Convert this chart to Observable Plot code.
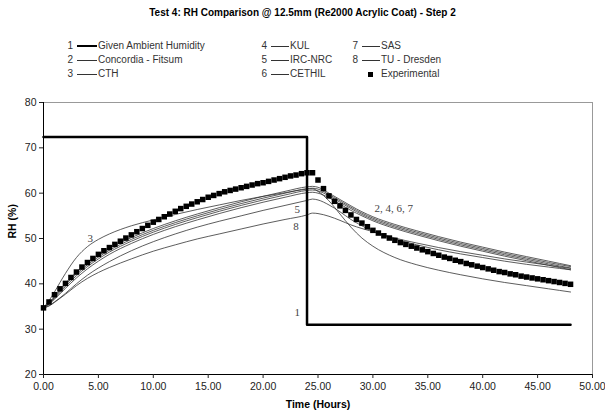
<!DOCTYPE html>
<html><head><meta charset="utf-8">
<script src="https://cdn.jsdelivr.net/npm/d3@7"></script>
<script src="https://cdn.jsdelivr.net/npm/@observablehq/plot@0.6"></script>
<style>
body{margin:0;background:#fff;font-family:Arial,"Liberation Sans",sans-serif;}
#wrap{position:relative;width:605px;height:418px;overflow:hidden;}
#title{position:absolute;top:0;left:0;width:605px;height:26px;line-height:26px;text-align:center;font-weight:bold;font-size:10px;color:#000;}
#legend{position:absolute;top:26px;left:0;width:605px;height:64px;}
.num{position:absolute;height:14px;line-height:14px;font-size:10px;color:#333;text-align:right;width:20px;}
.lab{position:absolute;height:14px;line-height:14px;font-size:10px;color:#333;white-space:nowrap;}
.ln{position:absolute;background:#333;}
.sq{position:absolute;width:5px;height:5px;background:#000;}
#chart{position:absolute;top:90px;left:0;}
</style></head>
<body>
<div id="wrap">
  <div id="title">Test 4: RH Comparison @ 12.5mm (Re2000 Acrylic Coat) - Step 2</div>
  <div id="legend"></div>
  <div id="chart"></div>
</div>
<script>
// ---- data ----
const xTicks = [0, 5, 10, 15, 20, 25, 30, 35, 40, 45, 50];
const yTicks = [20, 30, 40, 50, 60, 70, 80];

// Given ambient humidity (step)
const ambientTimes = [0, 24, 48];
const ambientRH = [72.4, 31.0, 31.0];

// model time grid (hours)
const modelTimes = [0, 0.5, 1, 1.5, 2, 3, 4, 5, 6, 8, 10, 12, 14, 16, 18, 20, 22, 24, 24.5,
  25, 26, 27, 28, 29, 30, 32, 34, 36, 38, 40, 42, 44, 46, 48];

const concordia = [34.7, 35.5, 36.6, 37.8, 39.0, 41.3, 43.3, 45.0, 46.5, 48.9, 50.9, 52.6, 54.1, 55.5, 56.8, 58.0, 59.1, 60.1, 60.2,
  60.0, 59.0, 57.6, 56.2, 55.0, 53.9, 52.2, 50.8, 49.5, 48.3, 47.2, 46.1, 45.1, 44.1, 43.1];
const cth = [34.7, 36.3, 38.2, 40.3, 42.3, 45.8, 48.2, 49.8, 51.0, 52.8, 54.1, 55.3, 56.4, 57.4, 58.4, 59.3, 60.1, 60.9, 61.0,
  60.4, 58.3, 55.4, 52.5, 50.1, 48.3, 45.8, 44.2, 43.0, 42.0, 41.1, 40.3, 39.6, 38.9, 38.2];
const kul = [34.7, 35.6, 36.8, 38.1, 39.4, 41.8, 43.8, 45.5, 47.0, 49.4, 51.4, 53.1, 54.6, 56.0, 57.3, 58.5, 59.6, 60.6, 60.7,
  60.5, 59.4, 58.0, 56.6, 55.3, 54.2, 52.5, 51.1, 49.8, 48.6, 47.5, 46.4, 45.4, 44.4, 43.5];
const ircNrc = [34.7, 35.2, 36.0, 36.9, 37.9, 40.0, 41.9, 43.5, 44.9, 47.3, 49.3, 51.0, 52.5, 53.8, 55.0, 56.2, 57.3, 58.4, 58.7,
  58.5, 57.4, 55.9, 54.2, 52.8, 51.6, 49.9, 48.6, 47.5, 46.6, 45.8, 45.0, 44.3, 43.7, 43.1];
const cethil = [34.7, 35.7, 37.0, 38.4, 39.8, 42.2, 44.2, 45.9, 47.4, 49.8, 51.8, 53.5, 55.0, 56.4, 57.7, 58.9, 60.0, 61.0, 61.1,
  60.9, 59.7, 58.3, 56.9, 55.6, 54.5, 52.8, 51.4, 50.1, 48.9, 47.8, 46.7, 45.7, 44.7, 43.8];
const sas = [34.7, 35.8, 37.2, 38.7, 40.1, 42.6, 44.6, 46.3, 47.8, 50.2, 52.2, 53.9, 55.4, 56.8, 58.1, 59.3, 60.4, 61.4, 61.5,
  61.3, 60.0, 58.6, 57.2, 55.9, 54.8, 53.1, 51.7, 50.4, 49.2, 48.1, 47.0, 46.0, 45.0, 44.0];
const tuDresden = [34.7, 35.1, 35.9, 36.8, 37.7, 39.6, 41.2, 42.5, 43.6, 45.5, 47.2, 48.6, 49.9, 51.0, 52.1, 53.2, 54.2, 55.2, 55.6,
  55.5, 54.9, 54.0, 53.0, 52.2, 51.5, 50.1, 49.0, 48.0, 47.1, 46.3, 45.5, 44.8, 44.1, 43.4];

// Experimental (every 0.5 h)
const expTimes = [0,0.5,1,1.5,2,2.5,3,3.5,4,4.5,5,5.5,6,6.5,7,7.5,8,8.5,9,9.5,10,10.5,11,11.5,12,12.5,13,13.5,14,14.5,15,15.5,16,16.5,17,17.5,18,18.5,19,19.5,20,20.5,21,21.5,22,22.5,23,23.5,24,24.5,
  25,25.5,26,26.5,27,27.5,28,28.5,29,29.5,30,30.5,31,31.5,32,32.5,33,33.5,34,34.5,35,35.5,36,36.5,37,37.5,38,38.5,39,39.5,40,40.5,41,41.5,42,42.5,43,43.5,44,44.5,45,45.5,46,46.5,47,47.5,48];
const expRH = [34.7,36.0,37.6,38.9,40.1,41.4,42.6,43.7,44.7,45.6,46.5,47.3,48.0,48.7,49.4,50.1,50.8,51.5,52.2,52.9,53.6,54.2,54.8,55.4,56.0,56.6,57.1,57.6,58.1,58.6,59.1,59.5,59.9,60.3,60.6,60.9,61.2,61.5,61.8,62.1,62.3,62.6,62.9,63.2,63.5,63.8,64.0,64.3,64.5,64.5,
  62.9,61.0,59.4,58.2,57.2,56.2,55.2,54.2,53.4,52.6,51.8,51.2,50.6,50.1,49.6,49.1,48.7,48.3,47.9,47.5,47.1,46.7,46.3,45.9,45.6,45.2,44.9,44.5,44.2,43.9,43.6,43.3,43.0,42.7,42.5,42.2,42.0,41.7,41.5,41.3,41.1,40.9,40.7,40.5,40.3,40.1,39.9];

const seriesNames = ["Concordia - Fitsum", "CTH", "KUL", "IRC-NRC", "CETHIL", "SAS", "TU - Dresden"];
const seriesValues = [concordia, cth, kul, ircNrc, cethil, sas, tuDresden];

// in-chart annotations
const annoText = ["3", "5", "8", "1", "2, 4, 6, 7"];
const annoT = [4.25, 23.1, 23.0, 23.1, 31.9];
const annoRH = [50.0, 56.4, 52.7, 33.6, 56.6];

// legend
const legendNums = ["1","2","3","4","5","6","7","8",""];
const legendNames = ["Given Ambient Humidity","Concordia - Fitsum","CTH","KUL","IRC-NRC","CETHIL","SAS","TU - Dresden","Experimental"];

// ---- build tables ----
const modelData = [];
seriesNames.forEach((name, s) => {
  modelTimes.forEach((t, i) => modelData.push({series: name, t, rh: seriesValues[s][i]}));
});
const ambientData = ambientTimes.map((t, i) => ({t, rh: ambientRH[i]}));
const expData = expTimes.map((t, i) => ({t, rh: expRH[i]}));
const annoData = annoText.map((s, i) => ({text: s, t: annoT[i], rh: annoRH[i]}));

// ---- legend (HTML) ----
const leg = document.getElementById("legend");
const colX = [77, 271, 362];
const lineW = [20, 18, 18];
const rowY = [13, 27, 41];
legendNames.forEach((name, i) => {
  const col = Math.floor(i / 3), row = i % 3;
  const x0 = colX[col], y0 = rowY[row];
  if (legendNums[i]) {
    const n = document.createElement("div");
    n.className = "num"; n.textContent = legendNums[i];
    n.style.left = (x0 - 24) + "px"; n.style.top = y0 + "px";
    leg.appendChild(n);
  }
  if (i === 8) {
    const q = document.createElement("div");
    q.className = "sq"; q.style.left = (x0 + 6) + "px"; q.style.top = (y0 + 5) + "px";
    leg.appendChild(q);
  } else {
    const l = document.createElement("div");
    l.className = "ln";
    const th = i === 0 ? 2.5 : 1;
    l.style.left = x0 + "px"; l.style.width = lineW[col] + "px";
    l.style.top = (y0 + 7 - th / 2) + "px"; l.style.height = th + "px";
    if (i === 0) l.style.background = "#000";
    leg.appendChild(l);
  }
  const t = document.createElement("div");
  t.className = "lab"; t.textContent = name;
  t.style.left = (x0 + lineW[col] + 1) + "px"; t.style.top = y0 + "px";
  leg.appendChild(t);
});

// ---- chart ----
const chart = Plot.plot({
  width: 605,
  height: 328,
  marginTop: 12,
  marginLeft: 43,
  marginRight: 13,
  marginBottom: 44,
  style: {fontFamily: "Arial, 'Liberation Sans', sans-serif", fontSize: "10.5px", color: "#222", background: "#fff"},
  x: {domain: [0, 50]},
  y: {domain: [20, 80]},
  marks: [
    Plot.frame({stroke: "#999"}),
    Plot.line(modelData, {x: "t", y: "rh", z: "series", stroke: "#333", strokeWidth: 0.8, curve: "monotone-x"}),
    Plot.dot(expData, {x: "t", y: "rh", symbol: "square", fill: "#000", stroke: null, r: 3.1}),
    Plot.line(ambientData, {x: "t", y: "rh", stroke: "#000", strokeWidth: 2.5, curve: "step-after"}),
    Plot.text(annoData, {x: "t", y: "rh", text: "text", fontFamily: "'Liberation Serif', 'DejaVu Serif', serif", fontSize: 11, fill: "#444"}),
    Plot.ruleX([0], {stroke: "#000"}),
    Plot.ruleY([20], {stroke: "#000"}),
    Plot.axisX({ticks: xTicks, tickFormat: d3.format(".2f"), tickSize: 4, tickPadding: 4, label: null}),
    Plot.axisY({ticks: yTicks, tickSize: 4, tickPadding: 3, label: null}),
    Plot.text(["Time (Hours)"], {frameAnchor: "bottom", dy: 33, fontWeight: "bold", fontSize: 10.5, fill: "#000"}),
    Plot.text(["RH (%)"], {frameAnchor: "left", dx: -31, rotate: -90, fontWeight: "bold", fontSize: 10.5, fill: "#000"})
  ]
});
document.getElementById("chart").appendChild(chart);
</script>
</body></html>
